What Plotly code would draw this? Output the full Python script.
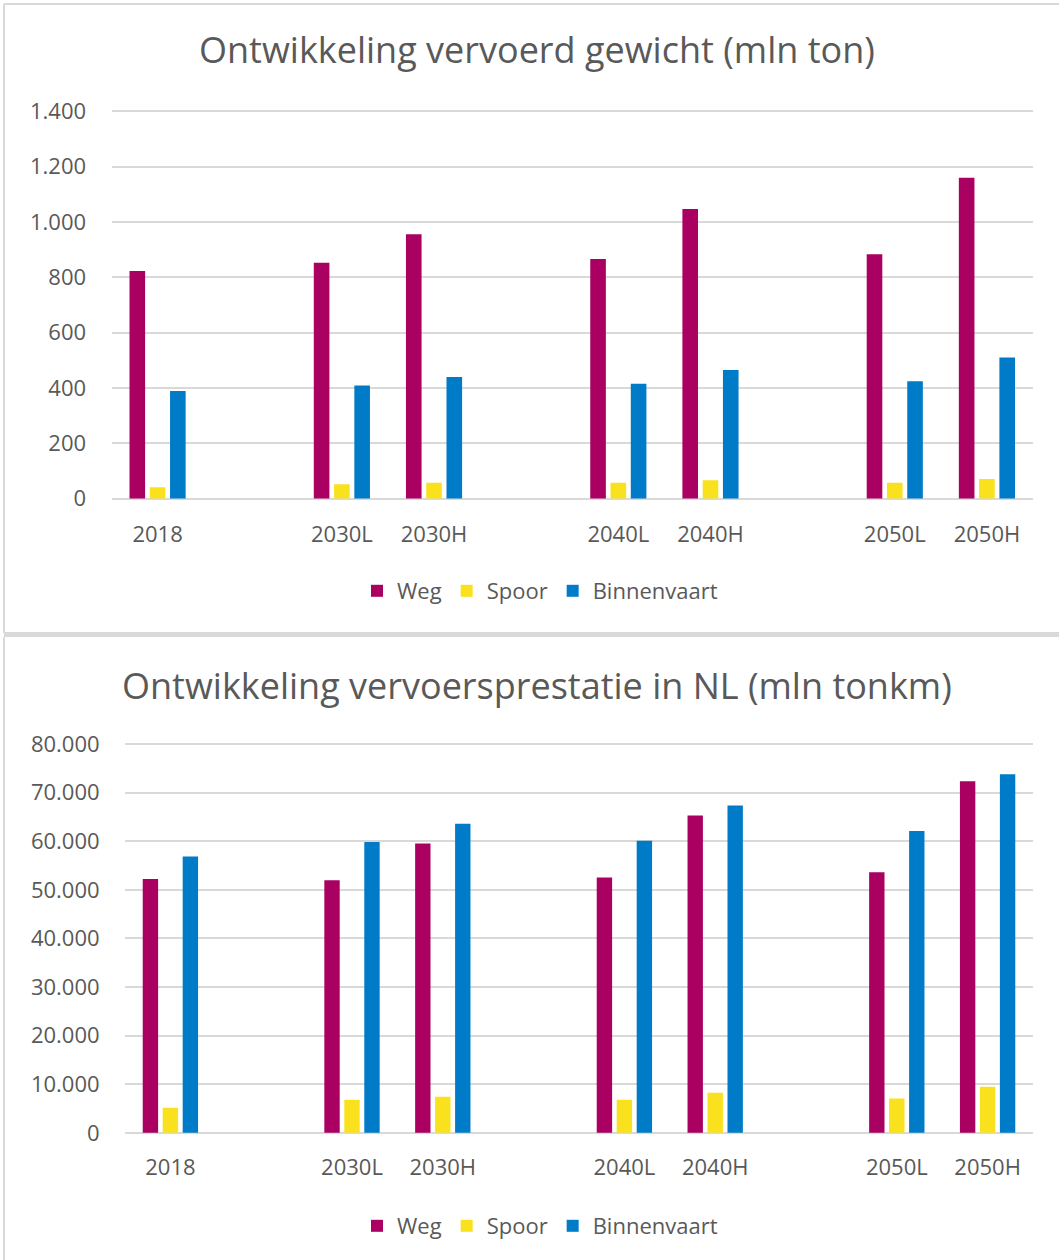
import plotly.graph_objects as go

# ---- data ----
slots = ["2018", "_g1", "2030L", "2030H", "_g2", "2040L", "2040H", "_g3", "2050L", "2050H"]
categories = ["2018", "2030L", "2030H", "2040L", "2040H", "2050L", "2050H"]

gewicht_weg = [823, 853, 956, 866, 1047, 884, 1160]
gewicht_spoor = [41, 52, 57, 57, 66, 57, 71]
gewicht_binnenvaart = [389, 409, 440, 415, 465, 424, 510]

prestatie_weg = [52200, 51980, 59530, 52520, 65310, 53630, 72320]
prestatie_spoor = [5150, 6800, 7430, 6800, 8250, 7075, 9490]
prestatie_binnenvaart = [56850, 59820, 63590, 60090, 67370, 62090, 73760]

series_names = ["Weg", "Spoor", "Binnenvaart"]
colors = ["#A90061", "#F9E11E", "#007BC7"]

FONT = "Open Sans"
TXT = "#595959"
GRID = "#D9D9D9"
W, H = 1059, 1260


def pad(values):
    m = dict(zip(categories, values))
    return [m.get(s) for s in slots]


tick_text = [s if not s.startswith("_") else "" for s in slots]

fig = go.Figure()

for name, col, vals in zip(series_names, colors, [gewicht_weg, gewicht_spoor, gewicht_binnenvaart]):
    fig.add_trace(go.Bar(x=slots, y=pad(vals), name=name, marker=dict(color=col, line=dict(width=0)),
                         xaxis="x", yaxis="y", legend="legend"))
for name, col, vals in zip(series_names, colors, [prestatie_weg, prestatie_spoor, prestatie_binnenvaart]):
    fig.add_trace(go.Bar(x=slots, y=pad(vals), name=name, marker=dict(color=col, line=dict(width=0)),
                         xaxis="x2", yaxis="y2", legend="legend2"))


def py(y):
    return 1 - y / H


def px(x):
    return x / W


axis_common_x = dict(type="category", categoryorder="array", categoryarray=slots,
                     tickmode="array", tickvals=slots, ticktext=tick_text,
                     showgrid=False, showline=False, zeroline=False,
                     ticks="outside", tickcolor="rgba(0,0,0,0)",
                     tickfont=dict(family=FONT, size=22, color=TXT), range=[-0.5, 9.5])
axis_common_y = dict(showgrid=True, gridcolor=GRID, gridwidth=2, zeroline=False, showline=False,
                     tickformat=",d", ticks="outside", ticklen=20, tickcolor="rgba(0,0,0,0)",
                     tickfont=dict(family=FONT, size=22, color=TXT))

legend_common = dict(orientation="h", xanchor="center", yanchor="middle",
                     font=dict(family=FONT, size=22, color=TXT), itemwidth=30, traceorder="normal")

fig.update_layout(
    width=W, height=H,
    margin=dict(l=0, r=0, t=0, b=0, autoexpand=False),
    paper_bgcolor="white", plot_bgcolor="white",
    separators=",.",
    barmode="group", bargap=0.34, bargroupgap=0.23,
    showlegend=True,
    xaxis=dict(axis_common_x, ticklen=14, domain=[px(111.5), px(1033)], anchor="y"),
    yaxis=dict(axis_common_y, domain=[py(500.2), py(109.8)], range=[-6, 1406], dtick=200,
               tick0=0, anchor="x"),
    xaxis2=dict(axis_common_x, ticklen=13, domain=[px(125), px(1033)], anchor="y2"),
    yaxis2=dict(axis_common_y, domain=[py(1134.5), py(742.3)], range=[-350, 80350], dtick=10000,
                tick0=0, anchor="x2"),
    legend=dict(legend_common, x=px(540), y=py(591)),
    legend2=dict(legend_common, x=px(540), y=py(1226)),
    annotations=[
        dict(text="Ontwikkeling vervoerd gewicht (mln ton)", x=px(537), y=py(50), xref="paper", yref="paper",
             xanchor="center", yanchor="middle", showarrow=False, font=dict(family=FONT, size=36, color=TXT)),
        dict(text="Ontwikkeling vervoersprestatie in NL (mln tonkm)", x=px(537), y=py(685), xref="paper",
             yref="paper", xanchor="center", yanchor="middle", showarrow=False,
             font=dict(family=FONT, size=36, color=TXT)),
    ],
    shapes=[
        dict(type="line", xref="paper", yref="paper", x0=px(4), x1=px(4), y0=py(4), y1=py(633),
             line=dict(color=GRID, width=2)),
        dict(type="line", xref="paper", yref="paper", x0=px(4), x1=1, y0=py(4), y1=py(4),
             line=dict(color=GRID, width=2)),
        dict(type="rect", xref="paper", yref="paper", x0=px(4), x1=1, y0=py(637), y1=py(632),
             fillcolor=GRID, line=dict(width=0)),
        dict(type="line", xref="paper", yref="paper", x0=px(4), x1=px(4), y0=py(637), y1=0,
             line=dict(color=GRID, width=2)),
    ],
)

fig.write_html("out.html", config={"displayModeBar": False},
               post_script="document.body.style.margin='0';")
